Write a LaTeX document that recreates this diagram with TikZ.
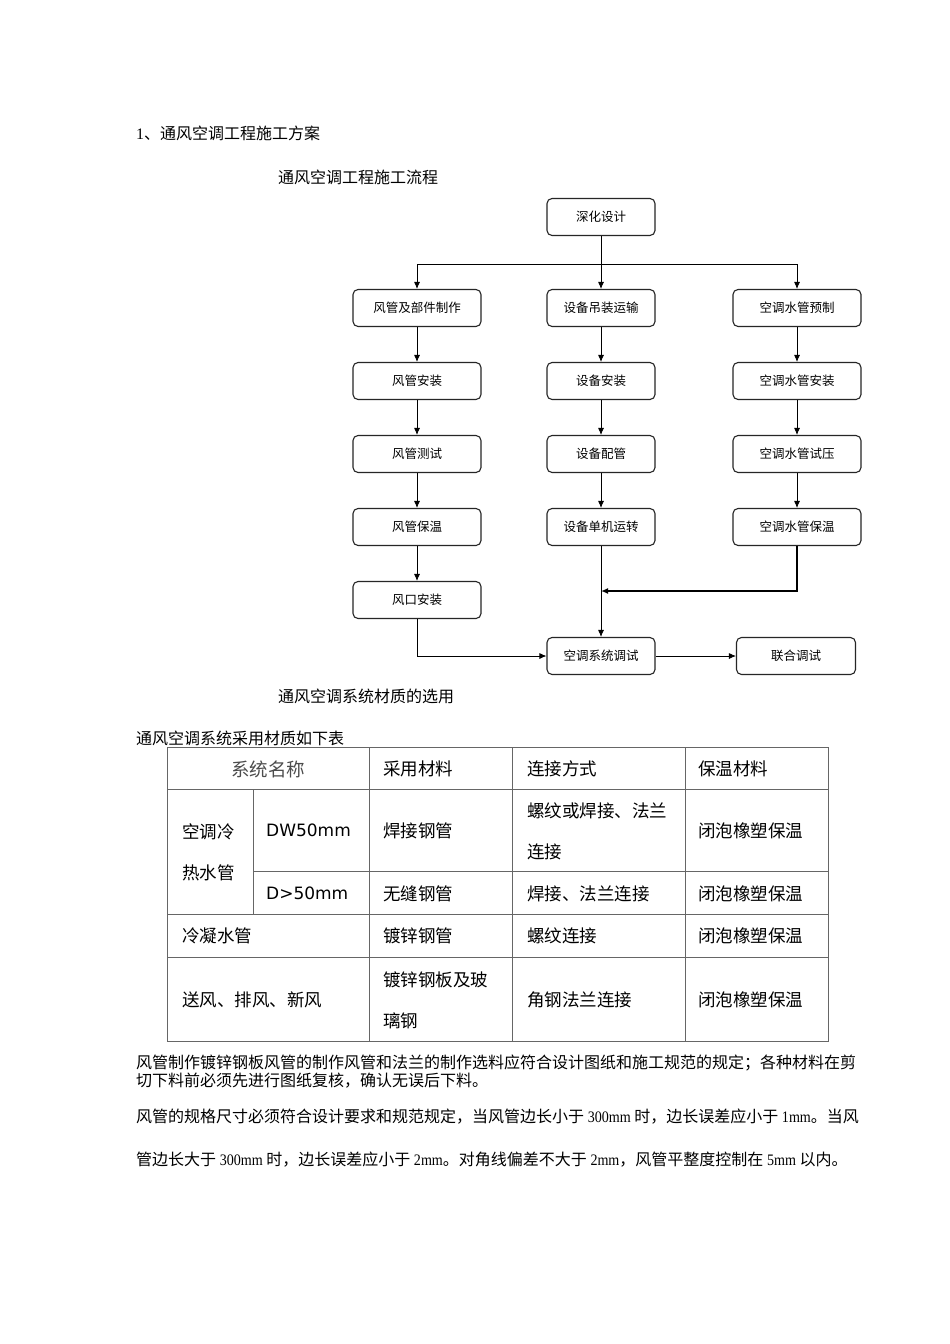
\documentclass[tikz,border=0pt]{standalone}
\usepackage{fontspec}
\usepackage{graphicx}
\setmainfont{Liberation Serif}
\newfontfamily\cjk{Noto Sans CJK SC}
\newfontfamily\dvs{DejaVu Sans}
\newcommand\numtxt[1]{{\rmfamily\scalebox{0.88}[1]{#1}}}
\usetikzlibrary{arrows.meta}
\tikzset{
  fbox/.style={draw=black!85, line width=1.1pt, rounded corners=5pt, minimum height=37pt, inner sep=0pt, font=\cjk\fontsize{12.5}{14}\selectfont},
  wbox/.style={fbox, minimum width=128pt},
  nbox/.style={fbox, minimum width=108pt},
  jbox/.style={fbox, minimum width=119pt},
  arr/.style={-{Latex[length=7pt,width=6pt]}, line width=0.8pt},
  txt/.style={anchor=west, inner sep=0pt, font=\cjk\fontsize{16}{18}\selectfont},
  cell/.style={anchor=west, inner sep=0pt, font=\cjk\fontsize{17.5}{20}\selectfont},
  latcell/.style={anchor=west, inner sep=0pt, font=\dvs\fontsize{17}{20}\selectfont},
  grid/.style={draw=black!60, line width=0.8pt}
}
\begin{document}
\begin{tikzpicture}[x=1pt,y=-1pt]
\useasboundingbox[fill=white] (0,0) rectangle (950,1344);

% headings
\node[txt] (h1) at (136,133) {{\rmfamily 1}、通风空调工程施工方案};
\node[txt] (h2) at (278,177) {通风空调工程施工流程};

% flowchart
\node[nbox] (sh) at (601,217) {深化设计};
\node[wbox] (a1) at (417,308) {风管及部件制作};
\node[nbox] (b1) at (601,308) {设备吊装运输};
\node[wbox] (c1) at (797,308) {空调水管预制};
\node[wbox] (a2) at (417,381) {风管安装};
\node[nbox] (b2) at (601,381) {设备安装};
\node[wbox] (c2) at (797,381) {空调水管安装};
\node[wbox] (a3) at (417,454) {风管测试};
\node[nbox] (b3) at (601,454) {设备配管};
\node[wbox] (c3) at (797,454) {空调水管试压};
\node[wbox] (a4) at (417,527) {风管保温};
\node[nbox] (b4) at (601,527) {设备单机运转};
\node[wbox] (c4) at (797,527) {空调水管保温};
\node[wbox] (a5) at (417,600) {风口安装};
\node[nbox] (b5) at (601,656) {空调系统调试};
\node[jbox] (d5) at (796,656) {联合调试};

\coordinate (br) at (601,264);
\coordinate (mg) at (601,591);
\draw[line width=0.8pt] (sh.south) -- (br);
\draw[arr] (br) -- (b1.north);
\draw[arr] (br) -| (a1.north);
\draw[arr] (br) -| (c1.north);
\foreach \c in {a,b,c}{
  \draw[arr] (\c1.south) -- (\c2.north);
  \draw[arr] (\c2.south) -- (\c3.north);
  \draw[arr] (\c3.south) -- (\c4.north);
}
\draw[arr] (a4.south) -- (a5.north);
\draw[arr] (b4.south) -- (b5.north);
\draw[arr, line width=1.6pt] (c4.south) |- (mg);
\draw[arr] (a5.south) |- (b5.west);
\draw[arr] (b5.east) -- (d5.west);

% section titles
\node[txt] (h3) at (278,696) {通风空调系统材质的选用};
\node[txt] (h4) at (136,738) {通风空调系统采用材质如下表};

% table grid
\draw[grid] (167,747) rectangle (828,1041);
\draw[grid] (167,789) -- (828,789);
\draw[grid] (253,871) -- (828,871);
\draw[grid] (167,914) -- (828,914);
\draw[grid] (167,957) -- (828,957);
\draw[grid] (253,789) -- (253,914);
\draw[grid] (369,747) -- (369,1041);
\draw[grid] (512,747) -- (512,1041);
\draw[grid] (685,747) -- (685,1041);

% table text
\node[anchor=center, inner sep=0pt, font=\cjk\fontsize{18.5}{20}\selectfont, text=black!70] (th1) at (268,769) {系统名称};
\node[cell] (th2) at (383,769) {采用材料};
\node[cell] (th3) at (527,769) {连接方式};
\node[cell] (th4) at (698,769) {保温材料};

\node[cell] (r1a) at (182,832) {空调冷};
\node[cell] (r1b) at (182,873) {热水管};
\node[latcell] (r1c) at (266,830) {DW50mm};
\node[cell] (r1d) at (383,831) {焊接钢管};
\node[cell] (r1e) at (527,811) {螺纹或焊接、法兰};
\node[cell] (r1f) at (527,852) {连接};
\node[cell] (r1g) at (698,831) {闭泡橡塑保温};

\node[latcell] (r2c) at (266,893) {D>50mm};
\node[cell] (r2d) at (383,894) {无缝钢管};
\node[cell] (r2e) at (527,894) {焊接、法兰连接};
\node[cell] (r2g) at (698,894) {闭泡橡塑保温};

\node[cell] (r3a) at (182,936) {冷凝水管};
\node[cell] (r3d) at (383,936) {镀锌钢管};
\node[cell] (r3e) at (527,936) {螺纹连接};
\node[cell] (r3g) at (698,936) {闭泡橡塑保温};

\node[cell] (r4a) at (182,1000) {送风、排风、新风};
\node[cell] (r4d) at (383,980) {镀锌钢板及玻};
\node[cell] (r4f) at (383,1021) {璃钢};
\node[cell] (r4e) at (527,1000) {角钢法兰连接};
\node[cell] (r4g) at (698,1000) {闭泡橡塑保温};

% paragraphs
\node[txt] (p1) at (136,1063) {风管制作镀锌钢板风管的制作风管和法兰的制作选料应符合设计图纸和施工规范的规定；各种材料在剪};
\node[txt] (p2) at (136,1081) {切下料前必须先进行图纸复核，确认无误后下料。};
\node[txt] (p3) at (136,1117) {风管的规格尺寸必须符合设计要求和规范规定，当风管边长小于 \numtxt{300mm} 时，边长误差应小于 \numtxt{1mm}。当风};
\node[txt] (p4) at (136,1160) {管边长大于 \numtxt{300mm} 时，边长误差应小于 \numtxt{2mm}。对角线偏差不大于 \numtxt{2mm}，风管平整度控制在 \numtxt{5mm} 以内。};
\end{tikzpicture}
\end{document}
